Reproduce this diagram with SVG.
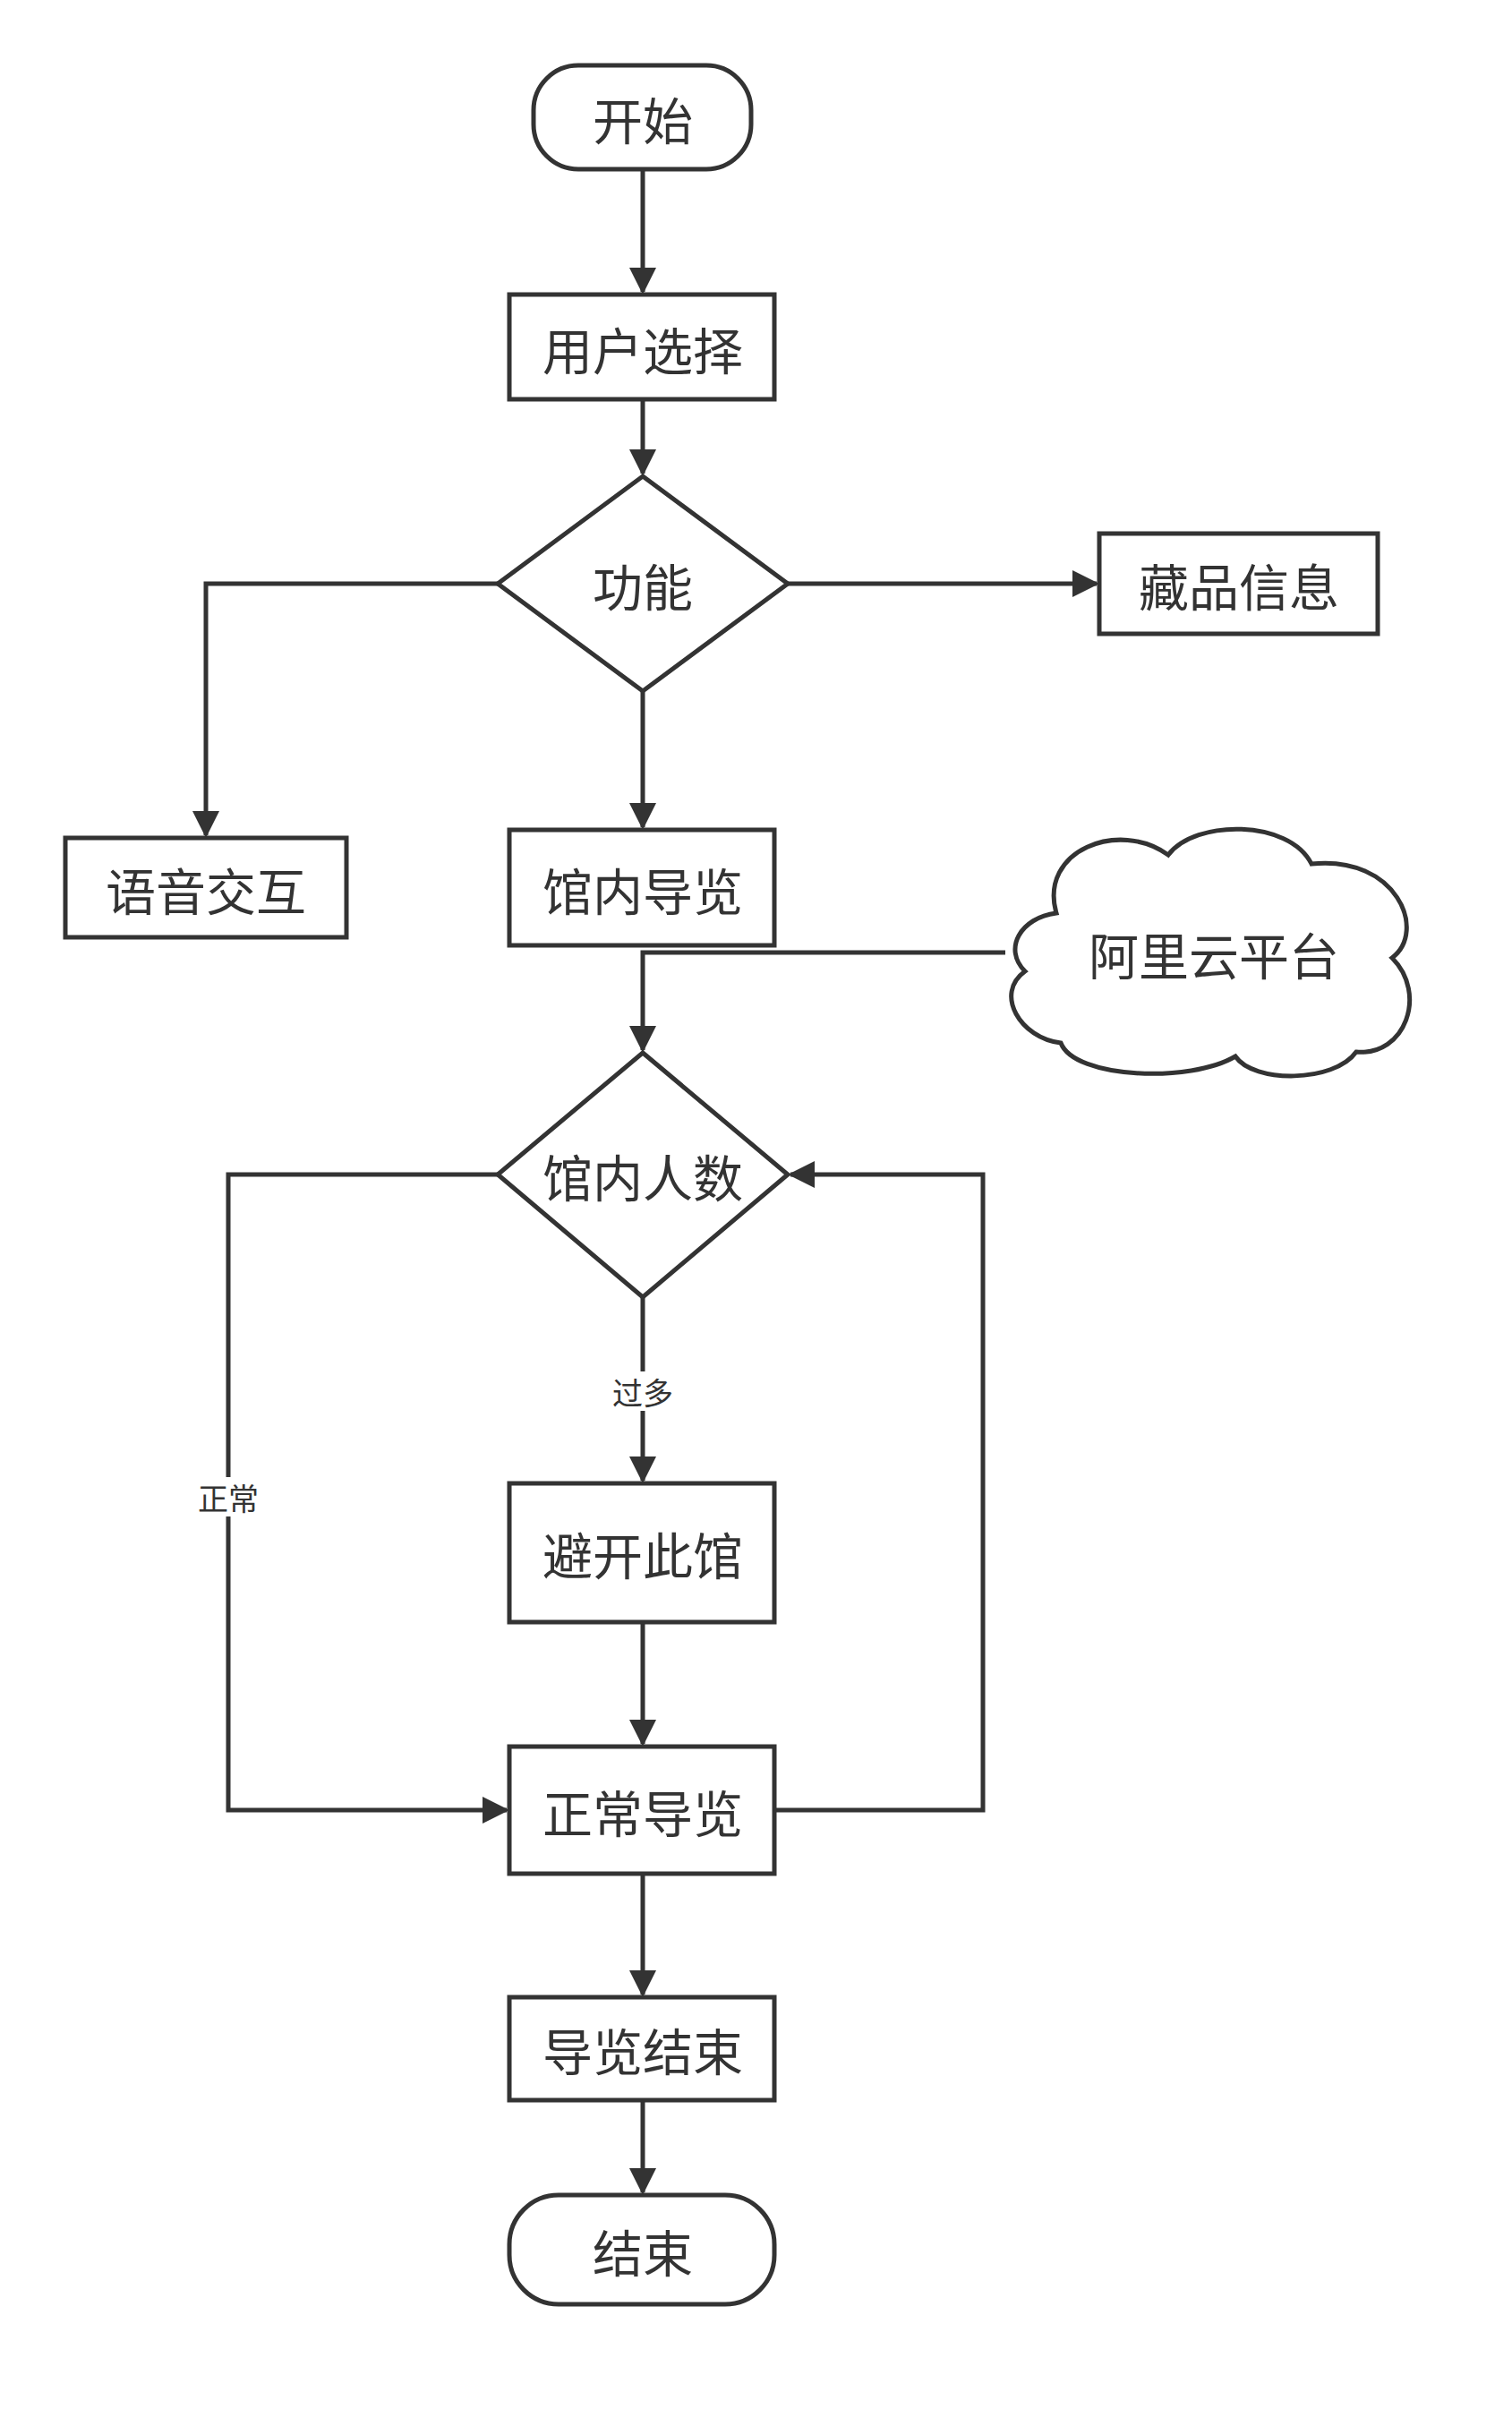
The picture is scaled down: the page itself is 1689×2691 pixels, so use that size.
<svg xmlns="http://www.w3.org/2000/svg" width="1689" height="2691" viewBox="0 0 1689 2691">
<defs>
<style>
.s{fill:#fff;stroke:#333;stroke-width:5}
.c{fill:none;stroke:#333;stroke-width:5}
.t{font-family:"Noto Sans CJK SC",sans-serif;font-size:56px;fill:#333;text-anchor:middle;dominant-baseline:central}
.l{font-family:"Noto Sans CJK SC",sans-serif;font-size:34px;fill:#333;text-anchor:middle;dominant-baseline:central}
</style>
<marker id="a" viewBox="0 0 10 10" refX="9" refY="5" markerWidth="6" markerHeight="6" markerUnits="strokeWidth" orient="auto"><path d="M0,0L10,5L0,10z" fill="#333"/></marker>
</defs>
<g id="connectors">
<path class="c" d="M718,189V326" marker-end="url(#a)"/>
<path class="c" d="M718,446V529" marker-end="url(#a)"/>
<path class="c" d="M880,652H1225" marker-end="url(#a)"/>
<path class="c" d="M556,652H230V933" marker-end="url(#a)"/>
<path class="c" d="M718,772V924" marker-end="url(#a)"/>
<path class="c" d="M1123,1064H718V1173" marker-end="url(#a)"/>
<path class="c" d="M718,1449V1654" marker-end="url(#a)"/>
<path class="c" d="M556,1312H255V2022H566" marker-end="url(#a)"/>
<path class="c" d="M865,2022H1098V1312H883" marker-end="url(#a)"/>
<path class="c" d="M718,1812V1948" marker-end="url(#a)"/>
<path class="c" d="M718,2093V2228" marker-end="url(#a)"/>
<path class="c" d="M718,2346V2449" marker-end="url(#a)"/>
<rect x="680" y="1532" width="76" height="44" fill="#fff"/>
<text class="l" x="718" y="1554">过多</text>
<rect x="217" y="1650" width="76" height="44" fill="#fff"/>
<text class="l" x="255" y="1672">正常</text>
</g>
<g id="start"><rect class="s" x="596" y="73" width="243" height="116" rx="50"/><text class="t" x="718" y="131">开始</text></g>
<g id="select"><rect class="s" x="569" y="329" width="296" height="117"/><text class="t" x="718" y="388">用户选择</text></g>
<g id="func"><path class="s" d="M718,532L880,652L718,772L556,652Z"/><text class="t" x="718" y="652">功能</text></g>
<g id="collection"><rect class="s" x="1228" y="596" width="311" height="112"/><text class="t" x="1384" y="652">藏品信息</text></g>
<g id="voice"><rect class="s" x="73" y="936" width="314" height="111"/><text class="t" x="230" y="992">语音交互</text></g>
<g id="guide"><rect class="s" x="569" y="927" width="296" height="129"/><text class="t" x="718" y="992">馆内导览</text></g>
<g id="cloud"><path class="s" d="M1180,1020C1160,950 1250,915 1305,955C1335,915 1440,915 1465,965C1560,955 1595,1040 1555,1070C1595,1110 1570,1180 1515,1175C1490,1210 1400,1210 1380,1180C1330,1210 1200,1205 1185,1165C1140,1160 1110,1110 1145,1085C1120,1060 1140,1025 1180,1020Z"/><text class="t" x="1356" y="1064">阿里云平台</text></g>
<g id="count"><path class="s" d="M718,1176L880,1312L718,1449L556,1312Z"/><text class="t" x="718" y="1312">馆内人数</text></g>
<g id="avoid"><rect class="s" x="569" y="1657" width="296" height="155"/><text class="t" x="718" y="1734">避开此馆</text></g>
<g id="normal"><rect class="s" x="569" y="1951" width="296" height="142"/><text class="t" x="718" y="2022">正常导览</text></g>
<g id="guideend"><rect class="s" x="569" y="2231" width="296" height="115"/><text class="t" x="718" y="2288">导览结束</text></g>
<g id="end"><rect class="s" x="569" y="2452" width="296" height="122" rx="55"/><text class="t" x="718" y="2513">结束</text></g>
</svg>
